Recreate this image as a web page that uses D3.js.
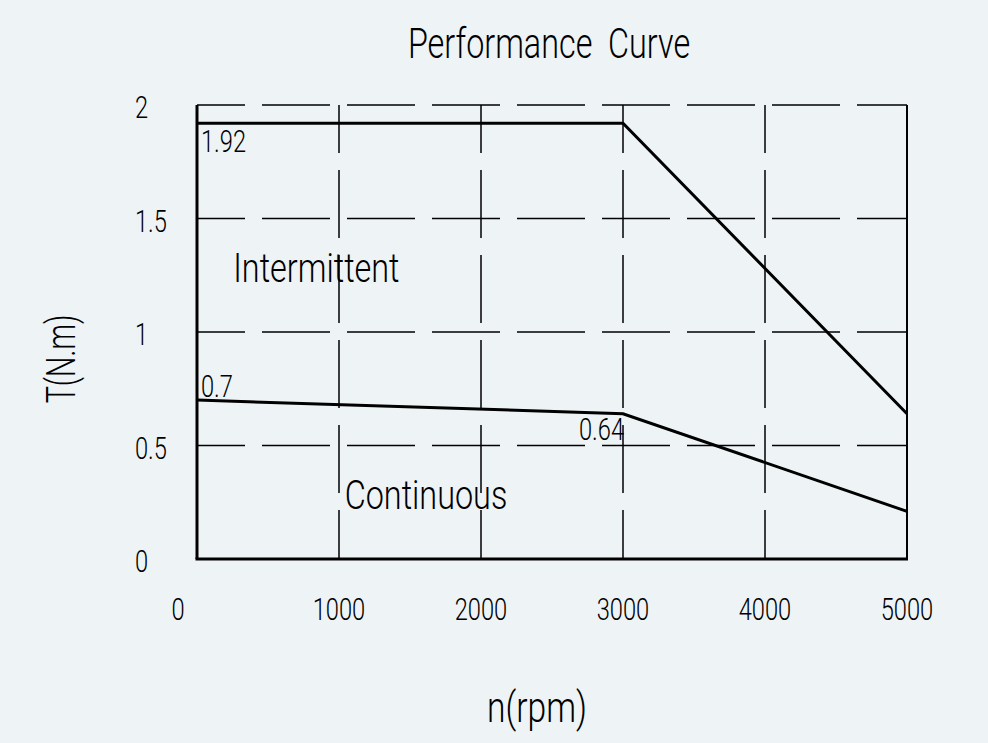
<!DOCTYPE html>
<html><head><meta charset="utf-8">
<script src="https://cdn.jsdelivr.net/npm/d3@7"></script>
<style>
html,body{margin:0;padding:0;background:#eef3f6;}
text{font-family:"Roboto","Liberation Sans",sans-serif;font-weight:300;fill:#000;white-space:pre;}
</style></head>
<body><svg id="chart" width="988" height="743"></svg>
<script>
// ---- data ----
const speedTicks = [0, 1000, 2000, 3000, 4000, 5000];
const torqueTicks = [0, 0.5, 1, 1.5, 2];
const intermittentSpeed = [0, 3000, 5000];
const intermittentTorque = [1.92, 1.92, 0.64];
const continuousSpeed = [0, 3000, 5000];
const continuousTorque = [0.7, 0.64, 0.21];
const pointLabels = [
  {speed: 0, torque: 1.92, text: "1.92"},
  {speed: 0, torque: 0.7, text: "0.7"},
  {speed: 3000, torque: 0.64, text: "0.64"}
];
const regionLabels = [
  {speed: 255, torque: 1.22, text: "Intermittent"},
  {speed: 1040, torque: 0.22, text: "Continuous"}
];
const title = "Performance  Curve";
const xTitle = "n(rpm)";
const yTitle = "T(N.m)";

// ---- layout ----
const svg = d3.select("#chart");
const L = 197, R = 907, T = 105, B = 559;
const x = d3.scaleLinear().domain([0, 5000]).range([L, R]);
const y = d3.scaleLinear().domain([0, 2]).range([B, T]);

function txt(g, px, py, s, size, anchor, sx, rot) {
  return g.append("text")
    .attr("transform", `translate(${px},${py})` + (rot ? ` rotate(${rot})` : "") + ` scale(${sx},1)`)
    .attr("font-size", size)
    .attr("text-anchor", anchor || "start")
    .text(s);
}

// grid: dashed
const grid = svg.append("g").attr("stroke", "#000").attr("stroke-width", 1.5).attr("fill", "none");
torqueTicks.filter(v => v > 0).forEach(v => {
  grid.append("line").attr("x1", x(0)).attr("x2", x(5000)).attr("y1", y(v)).attr("y2", y(v))
    .attr("stroke-dasharray", "68,17").attr("stroke-dashoffset", 20);
});
speedTicks.filter(v => v > 0 && v < 5000).forEach(v => {
  grid.append("line").attr("x1", x(v)).attr("x2", x(v)).attr("y1", y(2)).attr("y2", y(0))
    .attr("stroke-dasharray", "68,17").attr("stroke-dashoffset", 20);
});

// frame
const frame = svg.append("g").attr("stroke", "#000").attr("fill", "none");
frame.append("line").attr("x1", x(0)).attr("x2", x(0)).attr("y1", y(2)).attr("y2", y(0)).attr("stroke-width", 3);
frame.append("line").attr("x1", x(0) - 1.5).attr("x2", x(5000) + 1).attr("y1", y(0)).attr("y2", y(0)).attr("stroke-width", 3);
frame.append("line").attr("x1", x(5000)).attr("x2", x(5000)).attr("y1", y(2)).attr("y2", y(0)).attr("stroke-width", 2);

// curves
const line = d3.line().x(d => x(d[0])).y(d => y(d[1]));
svg.append("path").datum(d3.zip(intermittentSpeed, intermittentTorque))
  .attr("d", line).attr("fill", "none").attr("stroke", "#000").attr("stroke-width", 3);
svg.append("path").datum(d3.zip(continuousSpeed, continuousTorque))
  .attr("d", line).attr("fill", "none").attr("stroke", "#000").attr("stroke-width", 3);

// tick labels
const lab = svg.append("g");
const SN = 0.74, FS = 32;
torqueTicks.forEach(v => txt(lab, 135, y(v) + 13, String(v), FS, "start", SN));
speedTicks.forEach(v => txt(lab, x(v) + (v === 0 ? -19 : 0), 620, String(v), FS, "middle", SN));

// point labels
txt(lab, x(0) + 4, y(1.92) + 29, pointLabels[0].text, FS, "start", SN);
txt(lab, x(0) + 4, y(0.7) - 3, pointLabels[1].text, FS, "start", SN);
txt(lab, x(3000) + 1, y(0.64) + 26, pointLabels[2].text, FS, "end", SN);

// region labels
regionLabels.forEach(r => txt(lab, x(r.speed), y(r.torque), r.text, 41, "start", 0.79));

// titles
txt(lab, 549, 58, title, 42, "middle", 0.77);
txt(lab, 537, 722, xTitle, 42, "middle", 0.8);
txt(lab, 75, 359, yTitle, 40, "middle", 0.72, -90);
</script></body></html>
